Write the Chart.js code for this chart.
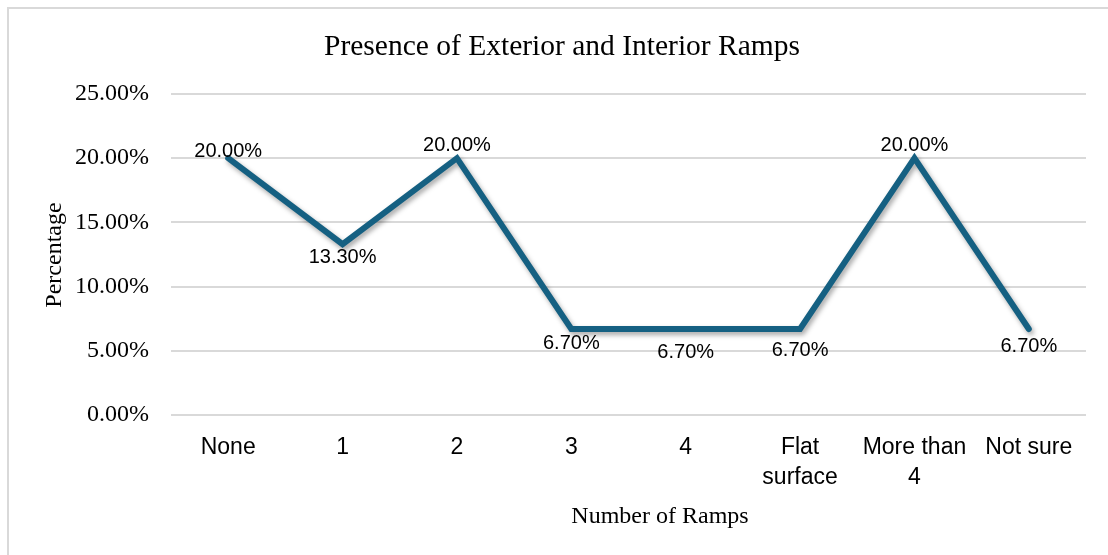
<!DOCTYPE html>
<html>
<head>
<meta charset="utf-8">
<script src="https://cdn.jsdelivr.net/npm/chart.js@4.4.1/dist/chart.umd.min.js"></script>
<style>
  html, body { margin: 0; padding: 0; background: #fff; }
  #wrap { position: relative; width: 1108px; height: 555px; overflow: hidden; }
  #frame { position: absolute; left: 7px; top: 7px; width: 1200px; height: 700px;
           border-top: 2px solid #d9d9d9; border-left: 2px solid #d9d9d9; pointer-events: none; }
  canvas { position: absolute; left: 0; top: 0; }
</style>
</head>
<body>
<div id="wrap">
  <canvas id="chart" width="1108" height="555"></canvas>
  <div id="frame"></div>
</div>
<script>
// Ramp counts reported by respondents
const categories = ['None', '1', '2', '3', '4', ['Flat', 'surface'], ['More than', '4'], 'Not sure'];
const percentages = [20.0, 13.3, 20.0, 6.7, 6.7, 6.7, 20.0, 6.7];
const yTicks = [0, 5, 10, 15, 20, 25];

const chartTitle = 'Presence of Exterior and Interior Ramps';
const xTitle = 'Number of Ramps';
const yTitle = 'Percentage';

const SERIF = '"Liberation Serif", "Times New Roman", serif';
const SANS = '"Liberation Sans", Arial, sans-serif';

// vertical offset of each value label relative to its point
const labelShift = [-7, 13, -13, 15, 24, 22, -13, 18];

const lineShadow = {
  id: 'lineShadow',
  beforeDatasetDraw(chart) {
    const ctx = chart.ctx;
    ctx.save();
    ctx.shadowColor = 'rgba(0,0,0,0.35)';
    ctx.shadowBlur = 5;
    ctx.shadowOffsetX = 2;
    ctx.shadowOffsetY = 3;
  },
  afterDatasetDraw(chart) {
    chart.ctx.restore();
  }
};

const annotations = {
  id: 'annotations',
  afterDraw(chart) {
    const ctx = chart.ctx;
    ctx.save();
    ctx.fillStyle = '#000';
    ctx.textAlign = 'center';
    ctx.textBaseline = 'middle';

    // value labels
    ctx.font = '20px ' + SANS;
    const meta = chart.getDatasetMeta(0);
    meta.data.forEach((pt, i) => {
      ctx.fillText(percentages[i].toFixed(2) + '%', pt.x, pt.y + labelShift[i]);
    });

    // chart title
    ctx.font = '29.5px ' + SERIF;
    ctx.fillText(chartTitle, 562, 47);

    // x axis title
    ctx.font = '24px ' + SERIF;
    ctx.fillText(xTitle, 660, 517);

    // y axis title
    ctx.translate(55, 255);
    ctx.rotate(-Math.PI / 2);
    ctx.fillText(yTitle, 0, 0);
    ctx.restore();
  }
};

new Chart(document.getElementById('chart'), {
  type: 'line',
  data: {
    labels: categories,
    datasets: [{
      data: percentages,
      borderColor: '#156082',
      borderWidth: 6,
      borderJoinStyle: 'miter',
      borderCapStyle: 'round',
      pointRadius: 0,
      pointHoverRadius: 0,
      tension: 0,
      fill: false
    }]
  },
  options: {
    responsive: false,
    animation: false,
    events: [],
    layout: { padding: { left: 0, right: 22, top: 94, bottom: 0 } },
    plugins: {
      legend: { display: false },
      title: { display: false },
      tooltip: { enabled: false }
    },
    scales: {
      x: {
        offset: true,
        grid: { display: false, drawTicks: false },
        border: { display: false },
        ticks: {
          color: '#000',
          font: { family: SANS, size: 23, lineHeight: 1.3 },
          padding: 18,
          maxRotation: 0,
          autoSkip: false
        },
        afterFit(scale) { scale.height = 140; }
      },
      y: {
        min: 0,
        max: 25,
        afterBuildTicks(scale) { scale.ticks = yTicks.map(v => ({ value: v })); },
        grid: { color: '#d9d9d9', lineWidth: 2, drawTicks: false },
        border: { display: false },
        ticks: {
          color: '#000',
          font: { family: SERIF, size: 24 },
          padding: 22,
          callback: v => v.toFixed(2) + '%'
        },
        afterFit(scale) { scale.width = 171; }
      }
    }
  },
  plugins: [lineShadow, annotations]
});
</script>
</body>
</html>
